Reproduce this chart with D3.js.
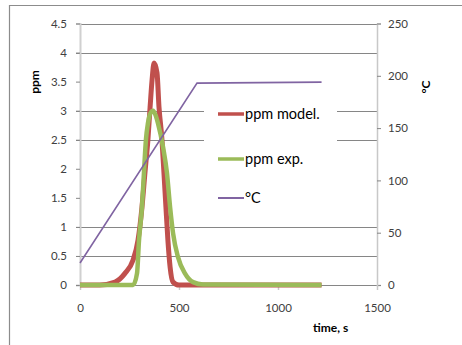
<!DOCTYPE html>
<html><head><meta charset="utf-8">
<script src="https://cdn.jsdelivr.net/npm/d3@7"></script>
<style>body{margin:0;background:#fff}svg{display:block}text{font-family:Lato,"Liberation Sans",sans-serif}</style>
</head><body><svg id="c" width="462" height="345"></svg>
<script>
const leftTicks=[0,0.5,1,1.5,2,2.5,3,3.5,4,4.5];
const gridShown=[0,0.5,1,2.5,3,4,4.5];
const rightTicks=[0,50,100,150,200,250];
const xTicks=[0,500,1000,1500];
const modelT=[0,100,177,227,268,293,313,328,343,354,364,374,389,399,414,424,434,444,455,470,500,600,1220];
const modelV=[0,0,0.05,0.2,0.43,0.77,1.34,1.93,2.5,3.06,3.53,3.82,3.65,3.06,2.5,1.93,1.34,0.77,0.31,0.05,0,0,0];
const expT=[0,268,288,298,313,323,333,343,356,369,382,394,419,439,455,470,495,530,571,621,1220];
const expV=[0,0,0.2,0.77,1.34,1.93,2.5,2.78,2.96,3.0,2.92,2.78,2.38,1.93,1.34,0.89,0.48,0.2,0.05,0.01,0];
const tempT=[0,591,1220];
const tempV=[21,193,194];
const seriesNames=["ppm model.","ppm exp.","°C"];
const colors=["#C0504D","#9BBB59","#8064A2"];

const svg=d3.select("#c");
const x=d3.scaleLinear().domain([0,1500]).range([80,377]);
const y=d3.scaleLinear().domain([0,4.5]).range([285,23.5]);
const y2=d3.scaleLinear().domain([0,250]).range([285,23.5]);

// frame
svg.append("path").attr("d","M9.5,345 V5.5 H462").attr("fill","none").attr("stroke","#8c8c8c").attr("stroke-width",1.2);

// gridlines
svg.append("g").selectAll("line").data(gridShown).join("line")
 .attr("x1",76).attr("x2",377).attr("y1",d=>Math.round(y(d))+0.5).attr("y2",d=>Math.round(y(d))+0.5)
 .attr("stroke","#868686").attr("stroke-width",1);

// left axis
const ga=svg.append("g").attr("transform","translate(80,0)").call(d3.axisLeft(y).tickValues(leftTicks).tickSize(4).tickFormat(d3.format("")));
ga.select(".domain").attr("stroke","#d0d0d0").attr("stroke-width",2);
ga.selectAll(".tick line").attr("stroke","#868686");
ga.selectAll("text").attr("font-size",11.5).attr("fill","#404040").attr("x",-13);

// right axis
const gr=svg.append("g").attr("transform","translate(377,0)").call(d3.axisRight(y2).tickValues(rightTicks).tickSize(4).tickFormat(d3.format("")));
gr.select(".domain").attr("stroke","#c8c8c8").attr("stroke-width",1.5);
gr.selectAll(".tick line").attr("stroke","#868686");
gr.selectAll("text").attr("font-size",11.5).attr("fill","#404040").attr("x",11);

// bottom axis
const gb=svg.append("g").attr("transform","translate(0,285)").call(d3.axisBottom(x).tickValues(xTicks).tickSize(5).tickFormat(d3.format("")));
gb.select(".domain").remove();
gb.selectAll(".tick line").attr("stroke","#c8c8c8").attr("stroke-width",1.5);
gb.selectAll("text").attr("font-size",11.5).attr("fill","#404040").attr("y",19);

// legend box
svg.append("rect").attr("x",204).attr("y",92).attr("width",133).attr("height",120).attr("fill","#fff");

const ln=(T,V,sc)=>d3.line().x((d,i)=>x(T[i])).y((d,i)=>sc(V[i])).curve(d3.curveMonotoneX)(V);
svg.append("path").attr("d",ln(modelT,modelV,y)).attr("fill","none").attr("stroke",colors[0]).attr("stroke-width",5).attr("stroke-linejoin","round");
svg.append("path").attr("d",ln(expT,expV,y)).attr("fill","none").attr("stroke",colors[1]).attr("stroke-width",4.5).attr("stroke-linejoin","round");
svg.append("path").attr("d",d3.line().x((d,i)=>x(tempT[i])).y((d,i)=>y2(tempV[i]))(tempV)).attr("fill","none").attr("stroke",colors[2]).attr("stroke-width",1.6);

// legend
const ly=[114,159,198];
const lg=svg.append("g");
seriesNames.forEach((n,i)=>{
  lg.append("line").attr("x1",218).attr("x2",244).attr("y1",ly[i]).attr("y2",ly[i]).attr("stroke",colors[i]).attr("stroke-width",i==2?2:3.5);
  lg.append("text").attr("x",245).attr("y",ly[i]+5).attr("font-size",14.5).attr("fill","#000").text(n);
});

// axis titles
svg.append("text").attr("transform","translate(39,82) rotate(-90)").attr("text-anchor","middle").attr("font-size",12).attr("font-weight","bold").text("ppm");
svg.append("text").attr("transform","translate(430,87) rotate(-90)").attr("text-anchor","middle").attr("font-size",12).attr("font-weight","bold").text("°C");
svg.append("text").attr("x",313).attr("y",332).attr("font-size",12).attr("font-weight","bold").text("time, s");
</script></body></html>
